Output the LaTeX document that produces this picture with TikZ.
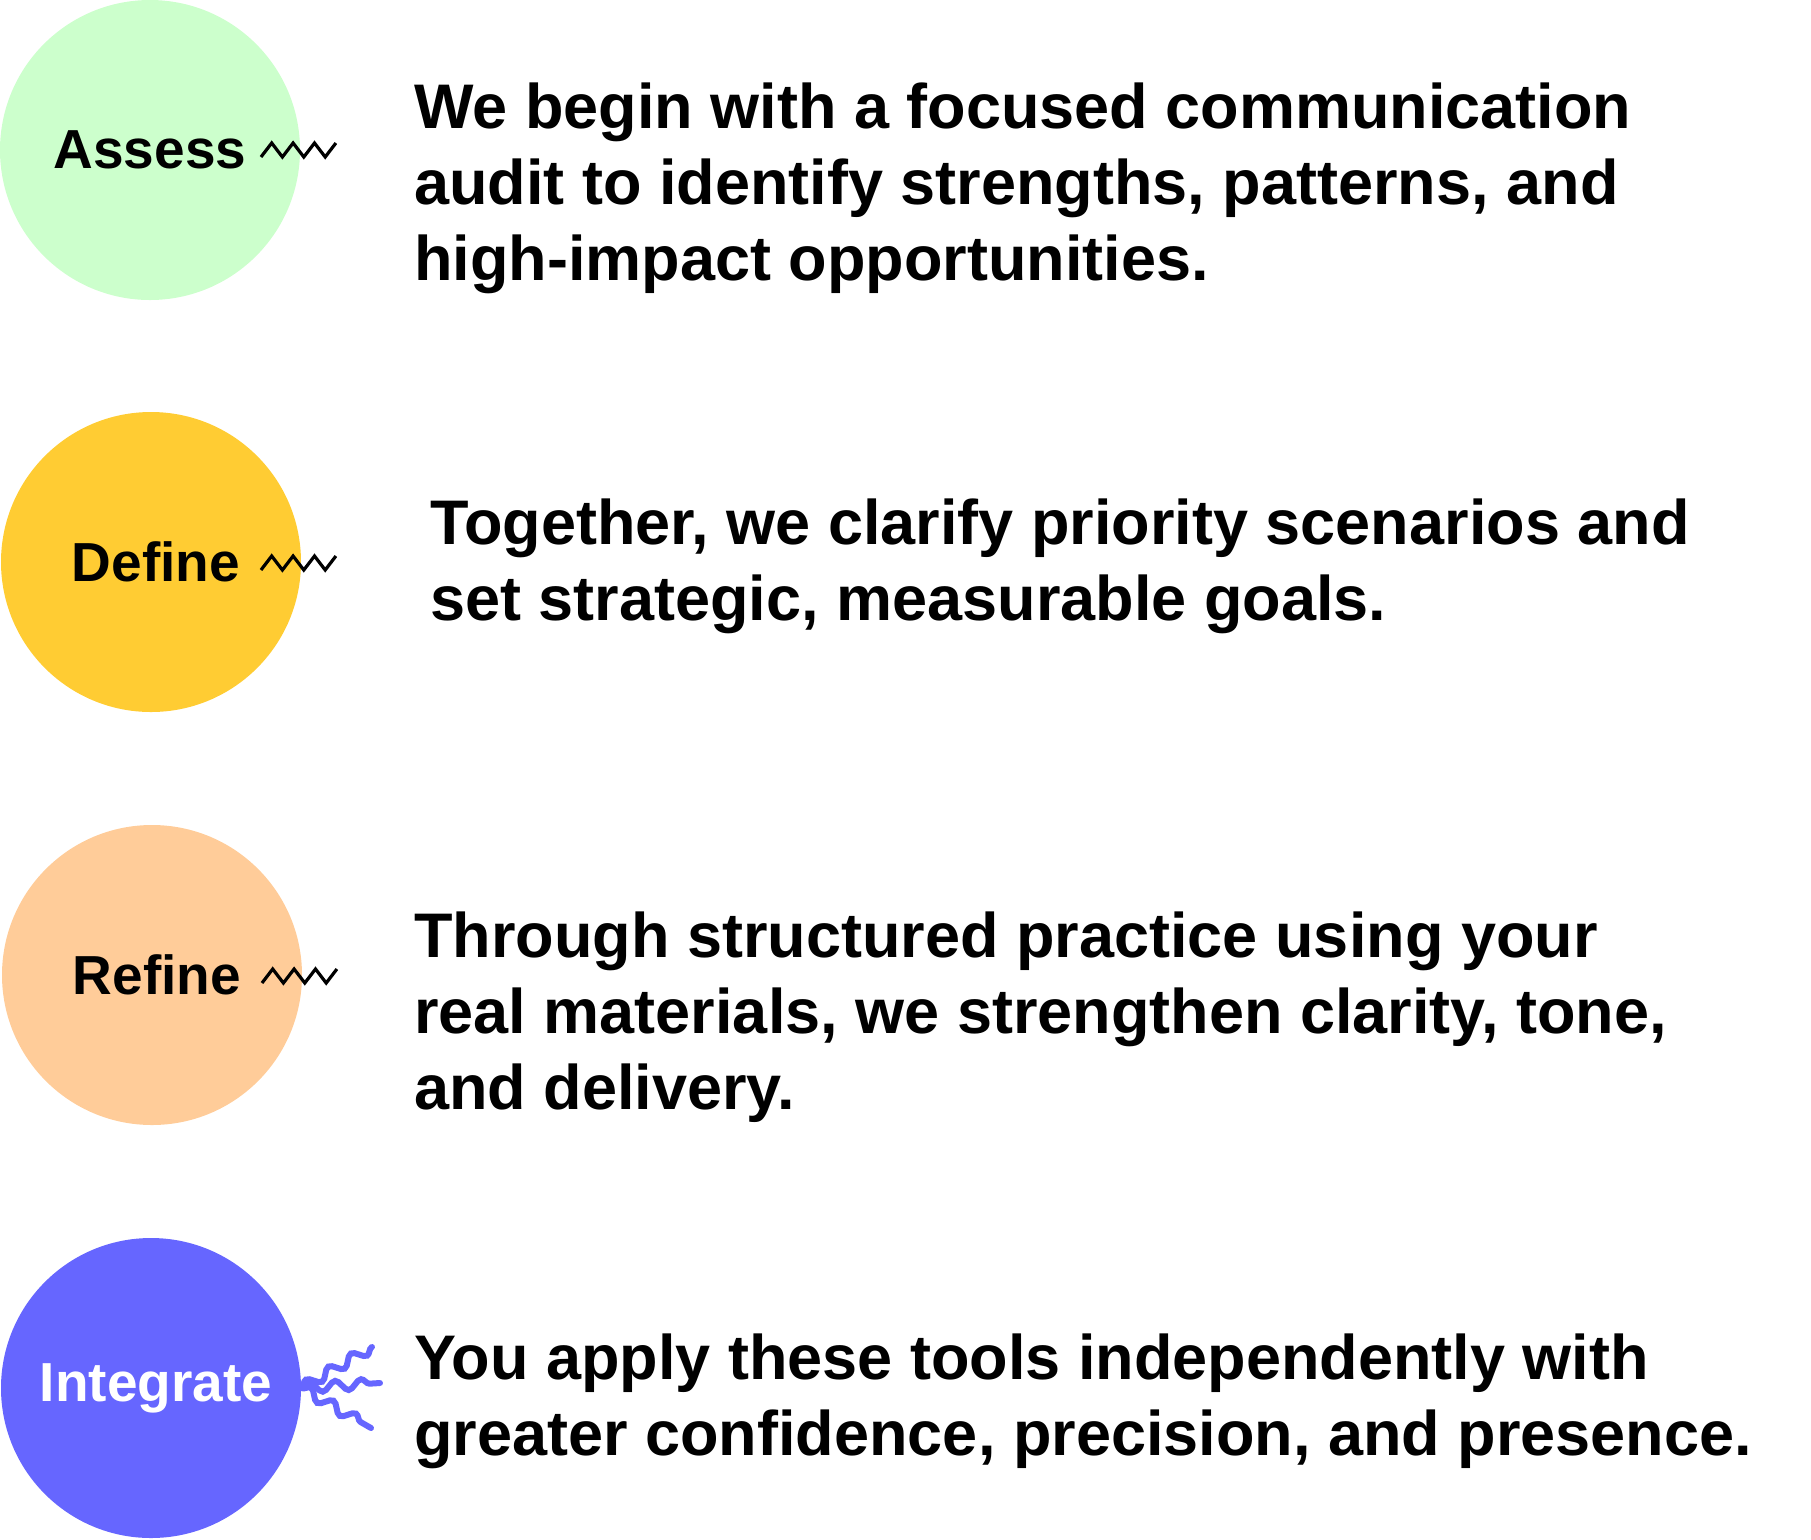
\documentclass[tikz,border=0pt]{standalone}
\usepackage{fontspec}
\setmainfont{Liberation Sans}
\usetikzlibrary{decorations.pathmorphing}

\definecolor{mint}{HTML}{CCFFCC}
\definecolor{gold}{HTML}{FFCC33}
\definecolor{peach}{HTML}{FFCC99}
\definecolor{violet}{HTML}{6666FF}

\begin{document}
\begin{tikzpicture}[x=0.5pt, y=-0.5pt,
    stage/.style={circle, minimum size=150pt, inner sep=0pt,
      font=\fontsize{27.5}{33}\selectfont\bfseries},
    desc/.style={anchor=base west, align=left, inner sep=0pt,
      font=\fontsize{31.5}{38}\selectfont\bfseries},
    zz/.style={line width=1.6pt, line join=miter},
    wave/.style={violet, line width=3pt, line cap=round,
      decorate, decoration={snake, segment length=13pt, amplitude=2.5pt}}]
  \useasboundingbox (0,0) rectangle (1811,1539);

  % stages
  \node[stage, fill=mint]  (assess) at (150,150) {Assess};
  \node[stage, fill=gold]  (define) at (151,562) {\hspace{5pt}Define};
  \node[stage, fill=peach] (refine) at (152,975) {\hspace{5pt}Refine};
  \node[stage, fill=violet, text=white] (integ) at (151,1388) {\hspace{5pt}Integrate};

  % descriptions (anchored on the last line)
  \node[desc] (tA) at (414,280) {We begin with a focused communication\\
    audit to identify strengths, patterns, and\\high-impact opportunities.};
  \node[desc] (tD) at (430,620) {Together, we clarify priority scenarios and\\
    set strategic, measurable goals.};
  \node[desc] (tR) at (414,1109) {Through structured practice using your\\
    real materials, we strengthen clarity, tone,\\and delivery.};
  \node[desc] (tI) at (414,1455) {You apply these tools independently with\\
    greater confidence, precision, and presence.};

  % zigzags
  \coordinate (zA) at (261,157);
  \coordinate (zD) at (261,570);
  \coordinate (zR) at (262,983);
  \foreach \z in {zA, zD, zR}
    \draw[zz] (\z) \foreach \k in {1,2,3} {-- ++(10.7,-14) -- ++(10.7,14)} -- ++(10.7,-14);

  % waves
  \coordinate (wU) at (372,1347);
  \coordinate (wM) at (380,1383);
  \coordinate (wL) at (371,1428);
  \draw[wave] (integ.east) -- (wU);
  \draw[wave] (integ.east) -- (wM);
  \draw[wave] (integ.east) -- (wL);
\end{tikzpicture}
\end{document}
